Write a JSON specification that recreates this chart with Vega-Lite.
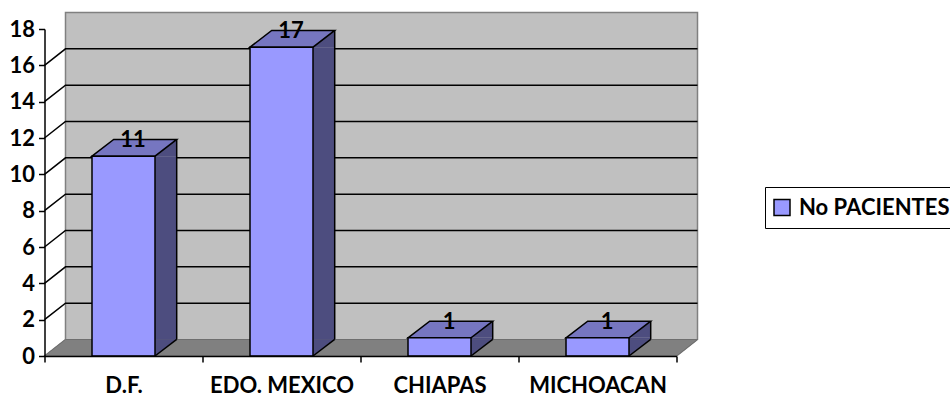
{
  "$schema": "https://vega.github.io/schema/vega-lite/v6.json",
  "width": 632,
  "height": 327,
  "autosize": "none",
  "padding": {"left": 44.5, "top": 29, "right": 273.5, "bottom": 39},
  "background": "white",
  "config": {
    "view": {"stroke": null},
    "font": "Lato"
  },
  "datasets": {
    "estados": [
      {"estado": "D.F.", "pacientes": 11},
      {"estado": "EDO. MEXICO", "pacientes": 17},
      {"estado": "CHIAPAS", "pacientes": 1},
      {"estado": "MICHOACAN", "pacientes": 1}
    ],
    "niveles": [
      {"estado": "D.F.", "nivel": 2}, {"estado": "D.F.", "nivel": 4},
      {"estado": "D.F.", "nivel": 6}, {"estado": "D.F.", "nivel": 8},
      {"estado": "D.F.", "nivel": 10}, {"estado": "D.F.", "nivel": 12},
      {"estado": "D.F.", "nivel": 14}, {"estado": "D.F.", "nivel": 16}
    ],
    "base": [{"estado": "D.F.", "nivel": 0}]
  },
  "data": {"name": "estados"},
  "encoding": {
    "x": {
      "field": "estado",
      "type": "nominal",
      "sort": null,
      "title": null,
      "scale": {"domain": ["D.F.", "EDO. MEXICO", "CHIAPAS", "MICHOACAN"], "paddingInner": 0, "paddingOuter": 0},
      "axis": {
        "labelAngle": 0,
        "tickBand": "extent",
        "tickSize": 6,
        "tickWidth": 1.5,
        "tickColor": "black",
        "domainColor": "black",
        "domainWidth": 1.5,
        "labelFont": "Lato",
        "labelFontWeight": "bold",
        "labelFontSize": 22,
        "labelColor": "black",
        "labelPadding": 13,
        "zindex": 1
      }
    },
    "y": {
      "field": "pacientes",
      "type": "quantitative",
      "title": null,
      "scale": {"domain": [0, 18], "nice": false},
      "axis": {
        "values": [0, 2, 4, 6, 8, 10, 12, 14, 16, 18],
        "grid": false,
        "tickSize": 6,
        "tickWidth": 1.5,
        "tickColor": "black",
        "domainColor": "black",
        "domainWidth": 1.5,
        "labelFont": "Lato",
        "labelFontWeight": "bold",
        "labelFontSize": 22,
        "labelColor": "black",
        "labelPadding": 4,
        "zindex": 1
      }
    }
  },
  "layer": [
    {
      "description": "Back wall, left wall and floor of the 3D box, anchored on the first category at zero",
      "data": {"name": "base"},
      "mark": {"type": "point", "filled": true, "opacity": 1, "size": 4, "fill": "#C0C0C0", "stroke": "#808080", "strokeWidth": 1.5,
        "shape": "M-79,0L-58,-16.5L-58,-343.5L574,-343.5L574,-16.5L553,0Z"},
      "encoding": {"y": {"field": "nivel", "type": "quantitative"}}
    },
    {
      "data": {"name": "base"},
      "mark": {"type": "point", "filled": true, "opacity": 1, "size": 4, "fill": "#808080", "stroke": "#6E6E6E", "strokeWidth": 1,
        "shape": "M-79,0L-58,-16.5L574,-16.5L553,0Z"},
      "encoding": {"y": {"field": "nivel", "type": "quantitative"}}
    },
    {
      "description": "Gridlines folded over the left and back walls",
      "data": {"name": "niveles"},
      "mark": {"type": "point", "filled": false, "opacity": 1, "size": 4, "stroke": "black", "strokeWidth": 1.5,
        "shape": "M-79,0L-58,-16.5L574,-16.5"},
      "encoding": {"y": {"field": "nivel", "type": "quantitative"}}
    },
    {
      "description": "Side face: body, then the two triangles that slant it",
      "mark": {"type": "bar", "width": 21.7, "xOffset": 42.35, "y2Offset": -16.7, "fill": "#4D4D7F"},
      "encoding": {"y2": {"datum": 0}}
    },
    {
      "mark": {"type": "point", "filled": true, "opacity": 1, "size": 4, "fill": "#4D4D7F", "stroke": null,
        "shape": "M31.5,0L53.2,-16.7L53.2,0Z"}
    },
    {
      "mark": {"type": "point", "filled": true, "opacity": 1, "size": 4, "fill": "#4D4D7F", "stroke": null,
        "shape": "M31.5,0L31.5,-16.7L53.2,-16.7Z"},
      "encoding": {"y": {"datum": 0}}
    },
    {
      "description": "Lower slanted edge of the side face",
      "mark": {"type": "point", "filled": false, "opacity": 1, "size": 4, "stroke": "black", "strokeWidth": 1.5,
        "shape": "M31.5,0L53.2,-16.7"},
      "encoding": {"y": {"datum": 0}}
    },
    {
      "description": "Back vertical edge of the side face",
      "mark": {"type": "rule", "xOffset": 53.2, "yOffset": -16.7, "y2Offset": -16.7, "stroke": "black", "strokeWidth": 1.5},
      "encoding": {"y2": {"datum": 0}}
    },
    {
      "description": "Top face",
      "mark": {"type": "point", "filled": false, "opacity": 1, "size": 4, "fill": "#7676C0", "stroke": "black", "strokeWidth": 1.5,
        "shape": "M-31.5,0L-9.8,-16.7L53.2,-16.7L31.5,0Z"}
    },
    {
      "description": "Front face, which also carries the legend",
      "mark": {"type": "bar", "width": 63, "stroke": "black", "strokeWidth": 1.5},
      "encoding": {
        "color": {
          "datum": "No PACIENTES",
          "scale": {"range": ["#9999FF"]},
          "legend": {
            "title": null,
            "orient": "none",
            "legendX": 720.5,
            "legendY": 158,
            "symbolType": "square",
            "symbolSize": 256,
            "symbolStrokeColor": "black",
            "symbolStrokeWidth": 1.5,
            "labelFont": "Lato",
            "labelFontWeight": "bold",
            "labelFontSize": 22,
            "labelColor": "black",
            "labelOffset": 6,
            "clipHeight": 29,
            "strokeColor": "black",
            "padding": 6
          }
        }
      }
    },
    {
      "mark": {"type": "text", "xOffset": 9.5, "yOffset": -16, "font": "Lato", "fontWeight": "bold", "fontSize": 22, "color": "black", "baseline": "middle"},
      "encoding": {"text": {"field": "pacientes", "type": "quantitative"}}
    }
  ]
}
